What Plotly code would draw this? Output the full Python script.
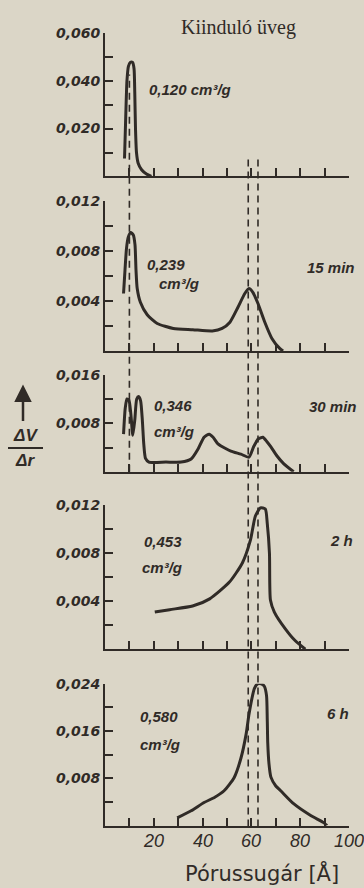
import plotly.graph_objects as go

# Pore-size distribution curves (dV/dr vs. pore radius in Å) for the
# starting glass and after 15 min, 30 min, 2 h and 6 h of treatment.
r_start = [8.0, 8.5, 9.0, 9.6, 10.4, 11.3, 11.9, 12.2, 12.5, 12.9, 13.6, 15.0, 17.0, 19.0]
v_start = [0.0075, 0.025, 0.040, 0.0460, 0.0477, 0.0476, 0.0450, 0.035, 0.020, 0.010, 0.0055, 0.0028, 0.0010, 0.0]

r_15min = [7.6, 8.2, 8.8, 9.5, 10.5, 11.6, 12.3, 12.7, 13.2, 14.5, 17.3, 21.4, 28.0, 36.0, 44.0,
           48.0, 51.2, 54.5, 57.3, 59.0, 60.6, 62.7, 65.5, 68.4, 71.6, 73.0]
v_15min = [0.0046, 0.0065, 0.0082, 0.0091, 0.0095, 0.0093, 0.0085, 0.0065, 0.0050, 0.0039, 0.0029,
           0.0022, 0.0018, 0.0017, 0.0016, 0.0018, 0.0023, 0.0035, 0.0046, 0.0050, 0.0047, 0.0038,
           0.0023, 0.0010, 0.0002, 0.0]

r_30min = [7.6, 8.3, 9.0, 9.8, 10.6, 11.4, 12.2, 13.0, 13.8, 14.6, 15.3, 15.9, 16.6, 18.0, 25.0,
           31.2, 35.3, 38.2, 40.6, 42.7, 44.3, 46.3, 51.6, 55.7, 59.0, 61.0, 62.8, 64.7, 66.3,
           68.0, 70.5, 73.3, 77.3]
v_30min = [0.0062, 0.0105, 0.0120, 0.0118, 0.0095, 0.0060, 0.0085, 0.0120, 0.0124, 0.0117, 0.0085,
           0.0045, 0.0022, 0.0016, 0.0016, 0.0016, 0.0021, 0.0038, 0.0057, 0.0062, 0.0057, 0.0046,
           0.0034, 0.0029, 0.0024, 0.0042, 0.0054, 0.0057, 0.0050, 0.0041, 0.0026, 0.0013, 0.0]

r_2h = [20.4, 26.5, 35.9, 42.9, 51.0, 56.3, 59.6, 61.6, 63.7, 65.7, 66.5, 67.4, 67.8, 69.4, 73.9, 78.0, 82.1]
v_2h = [0.0031, 0.0033, 0.0036, 0.0042, 0.0056, 0.0072, 0.0091, 0.0111, 0.0118, 0.0117, 0.0105,
        0.0080, 0.0041, 0.0031, 0.0017, 0.0007, 0.0]

r_6h = [29.6, 35.3, 40.6, 45.0, 48.8, 52.9, 55.7, 57.8, 59.0, 60.2, 61.2, 62.5, 64.0, 65.3, 66.2,
        66.5, 66.7, 67.2, 68.0, 70.0, 72.0, 77.3, 84.3, 89.6, 91.0]
v_6h = [0.0013, 0.0025, 0.0039, 0.0048, 0.0059, 0.0081, 0.0114, 0.0154, 0.0188, 0.0215, 0.0232,
        0.0240, 0.0240, 0.0236, 0.0220, 0.0180, 0.0140, 0.0105, 0.0082, 0.0067, 0.0059, 0.0037,
        0.0017, 0.0005, 0.0]

# Reference pore radii marked by dashed verticals
r_ref_small = 10.0
r_ref_pair = [58.7, 62.7]

# Pore volumes written beside each curve, and sample labels
volumes = ["0,120", "0,239", "0,346", "0,453", "0,580"]
samples = ["Kiinduló üveg", "15 min", "30 min", "2 h", "6 h"]

# Axis ticks: labelled (major) and unlabelled (minor) positions
x_major = [20, 40, 60, 80, 100]
x_major_text = ["20", "40", "60", "80", "100"]
x_minor = [10, 30, 50, 70, 90]
y_major = [[0.020, 0.040, 0.060], [0.004, 0.008, 0.012], [0.008, 0.016],
           [0.004, 0.008, 0.012], [0.008, 0.016, 0.024]]
y_major_text = [["0,020", "0,040", "0,060"], ["0,004", "0,008", "0,012"], ["0,008", "0,016"],
                ["0,004", "0,008", "0,012"], ["0,008", "0,016", "0,024"]]
y_minor = [[0.010, 0.030, 0.050], [0.002, 0.006, 0.010], [0.004, 0.012],
           [0.002, 0.006, 0.010], [0.004, 0.012, 0.020]]
y_max = [0.060, 0.012, 0.016, 0.012, 0.024]

W, H = 364, 888
INK = "#302b27"
BG = "#dbd6c7"

# panel frames in pixels: (top, bottom)
panel_px = [(25, 170), (195, 346), (370, 468), (502, 647), (682, 825)]
x_dom = [105 / W, 349 / W]

series = [(r_start, v_start), (r_15min, v_15min), (r_30min, v_30min), (r_2h, v_2h), (r_6h, v_6h)]

fig = go.Figure()
layout = dict(
    width=W, height=H,
    margin=dict(l=0, r=0, t=0, b=0),
    paper_bgcolor=BG, plot_bgcolor=BG,
    showlegend=False,
)

ital = dict(family="Liberation Sans", size=15, color=INK, style="italic", weight="bold")
tick_common = dict(ticks="inside", ticklen=8, tickwidth=1.6, tickcolor=INK)

for i, ((r, v), (top, bot)) in enumerate(zip(series, panel_px)):
    n = "" if i == 0 else str(i + 1)
    fig.add_trace(go.Scatter(
        x=r, y=v, mode="lines", xaxis="x" + n, yaxis="y" + n,
        line=dict(color=INK, width=3, shape="spline", smoothing=0.6),
        hoverinfo="skip",
    ))
    layout["xaxis" + n] = dict(
        domain=x_dom, range=[0, 100], anchor="y" + n,
        showline=True, linecolor=INK, linewidth=2,
        tickmode="array", tickvals=x_major + x_minor,
        showticklabels=False, showgrid=False, zeroline=False,
        **tick_common,
    )
    layout["yaxis" + n] = dict(
        domain=[1 - bot / H, 1 - top / H], range=[0, y_max[i]], anchor="x" + n,
        showline=True, linecolor=INK, linewidth=2,
        tickmode="array", tickvals=y_major[i], ticktext=y_major_text[i],
        showgrid=False, zeroline=False,
        tickfont=dict(family="DejaVu Sans", size=14, color=INK, style="italic", weight="bold"),
        minor=dict(tickmode="array", tickvals=y_minor[i], showgrid=False, **tick_common),
        **tick_common,
    )

fig.update_layout(**layout)

# radius labels under the bottom panel, placed on its x axis
for xv, xt in zip(x_major, x_major_text):
    fig.add_annotation(text=xt, x=xv, xref="x5", y=1 - 841 / H, yref="paper",
                       xanchor="center", yanchor="middle", showarrow=False,
                       font=dict(family="Liberation Sans", size=18, color=INK, style="italic"))

# dashed reference lines running through several panels
dash = "7px,5px"
fig.add_shape(type="line", xref="x", yref="paper", x0=r_ref_small, x1=r_ref_small,
              y0=1 - 468 / H, y1=1 - 67 / H, line=dict(color=INK, width=1.6, dash=dash))
for rr in r_ref_pair:
    fig.add_shape(type="line", xref="x", yref="paper", x0=rr, x1=rr,
                  y0=1 - 826 / H, y1=1 - 153 / H, line=dict(color=INK, width=1.6, dash=dash))


def txt(s, px, py, font, xanchor="left"):
    fig.add_annotation(text=s, x=px / W, y=1 - py / H, xref="paper", yref="paper",
                       xanchor=xanchor, yanchor="middle", showarrow=False, font=font)


txt(samples[0], 238, 20, dict(family="Liberation Serif", size=20, color=INK), "center")
txt(volumes[0] + " cm³/g", 147, 82, ital)
txt(volumes[1], 145, 259, ital)
txt("cm³/g", 157, 278, ital)
txt(samples[1], 305, 262, ital)
txt(volumes[2], 152, 401, ital)
txt("cm³/g", 152, 427, ital)
txt(samples[2], 307, 402, ital)
txt(volumes[3], 142, 538, ital)
txt("cm³/g", 140, 565, ital)
txt(samples[3], 328, 537, ital)
txt(volumes[4], 138, 715, ital)
txt("cm³/g", 138, 743, ital)
txt(samples[4], 325, 712, ital)

# axis titles
txt("Pórussugár [Å]", 262, 873, dict(family="DejaVu Sans", size=21, color=INK), "center")
lab = dict(family="Liberation Sans", size=17, color=INK, style="italic", weight="bold")
txt("ΔV", 25, 431, lab, "center")
txt("Δr", 25, 457, lab, "center")
fig.add_shape(type="line", xref="paper", yref="paper", x0=8 / W, x1=43 / W,
              y0=1 - 444 / H, y1=1 - 444 / H, line=dict(color=INK, width=2))
fig.add_annotation(x=23 / W, y=1 - 380 / H, xref="paper", yref="paper",
                   ax=0, ay=38, axref="pixel", ayref="pixel",
                   showarrow=True, arrowhead=2, arrowsize=1.4, arrowwidth=2.5,
                   arrowcolor=INK, text="")

fig.write_html("out.html")
